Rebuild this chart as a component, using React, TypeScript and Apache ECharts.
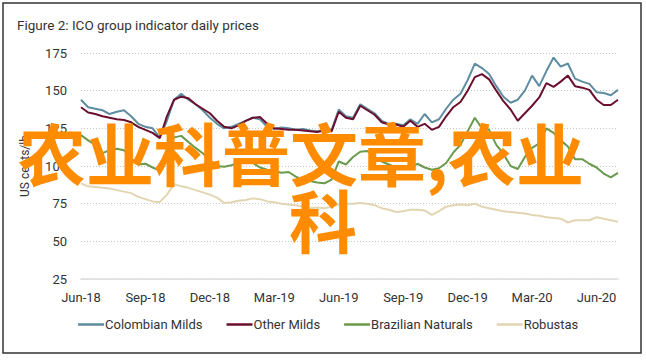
import React, { useEffect, useRef } from "react";
import * as echarts from "echarts";

const xLabels = ["Jun-18", "Sep-18", "Dec-18", "Mar-19", "Jun-19", "Sep-19", "Dec-19", "Mar-20", "Jun-20"];
const seriesNames = ["Colombian Milds", "Other Milds", "Brazilian Naturals", "Robustas"];
const seriesColors = ["#5e8ca0", "#6b0f2f", "#6a9a4b", "#e2d5b2"];
const yTicks = [25, 50, 75, 100, 125, 150, 175];

// sample grid: every third of a month starting Jun-18 (months since Jun-18)
const sampleMonths = Array.from({ length: 76 }, (_, k) => k / 3);

const colombianMilds = [
  144, 139, 138, 137, 134.5, 136, 137, 133, 128, 126,
  125, 119, 130, 144, 148, 144, 141, 137, 132, 128,
  125, 126, 128, 130, 132, 131, 126, 124.5, 125.5, 125,
  124, 124.5, 123.5, 123, 124.5, 124, 137.5, 133, 132, 141,
  138, 135, 130, 128, 128, 127, 131, 128, 134.5, 129,
  131, 138, 144, 148, 157, 168, 165, 161, 153, 146,
  142, 144, 150, 160, 153, 163, 172, 166, 168, 158,
  156, 154.5, 149, 148.5, 147, 150.5,
];
const otherMilds = [
  139, 135.5, 134.5, 133, 132, 131, 130.5, 129, 126, 124,
  122, 118.5, 133, 144, 146, 145, 141, 138, 135, 130,
  126, 125, 127, 130, 132, 132.5, 128, 125, 124.5, 124,
  124, 123.5, 123, 122.5, 123.5, 123, 136, 132, 131, 140,
  137, 134, 129, 127.5, 127.5, 126, 130, 126, 128, 124,
  126, 133, 139, 142.5, 150, 159, 161, 157.5, 150, 143,
  137.5, 130, 135, 140, 145.5, 155, 152.5, 156, 160, 153,
  152, 150.5, 144, 140.5, 140.5, 144,
];
const brazilianNaturals = [
  120.5, 117, 114, 108.5, 110.5, 111.5, 110.5, 105, 101, 101.5,
  99, 97, 108, 119, 120, 116, 112, 108.5, 104, 100,
  99.5, 100.5, 102, 102, 102, 99, 97.5, 96.5, 95.5, 96,
  93, 91, 90, 89, 88.5, 91, 103, 101, 106, 109.5,
  110, 106, 103, 101, 99, 98.5, 98.5, 101.5, 99, 97.5,
  98.5, 102, 109, 114, 123, 132, 125, 124, 114, 108,
  100, 98, 106, 112, 115, 125, 122, 117, 113, 104.5,
  104.5, 101.5, 99, 95, 92.5, 95.5,
];
const robustas = [
  88.5, 86.5, 86, 85.5, 85, 84, 83, 82, 79.5, 78,
  76.5, 76, 81, 88, 86.5, 85.5, 84, 82.5, 81, 79,
  75.5, 76, 77, 77.5, 78.5, 78, 76.5, 76, 75, 74.5,
  74, 73, 72, 72.5, 72, 73, 74.5, 75, 75, 75.5,
  75, 74, 72, 71, 69.5, 70, 71, 71, 70.5, 67.5,
  70, 73, 74, 74.5, 74, 75, 73, 72, 71, 70,
  69.5, 69, 68.5, 67.5, 67, 66, 65.5, 65, 62.5, 64,
  64, 64, 66, 65, 64, 63,
];
const allValues = [colombianMilds, otherMilds, brazilianNaturals, robustas];

const overlayLine1 = "农业科普文章,农业";
const overlayLine2 = "科";

const FONT = "Roboto, 'Noto Sans', sans-serif";

export default function App() {
  const ref = useRef<HTMLDivElement>(null);
  useEffect(() => {
    if (!ref.current) return;
    const chart = echarts.init(ref.current, undefined, { renderer: "svg" });
    chart.setOption({
      animation: false,
      backgroundColor: "#ffffff",
      title: {
        text: "Figure 2: ICO group indicator daily prices",
        left: 12,
        top: 13,
        textStyle: { fontFamily: FONT, fontSize: 13.5, fontWeight: "normal", color: "#333333" },
      },
      grid: { left: 81, right: 28, top: 53, bottom: 81 },
      legend: {
        data: seriesNames,
        left: 73,
        top: 313,
        icon: "rect",
        itemWidth: 26,
        itemHeight: 2.5,
        itemGap: 24,
        textStyle: { fontFamily: FONT, fontSize: 13, color: "#333333", padding: [0, 0, 0, -4] },
      },
      xAxis: {
        type: "value",
        min: 0,
        max: 25,
        interval: 3,
        axisLine: { show: true, lineStyle: { color: "#dcdcdc", width: 1.5 } },
        axisTick: { show: false },
        splitLine: { show: false },
        axisLabel: {
          showMaxLabel: false,
          showMinLabel: true,
          margin: 12,
          fontFamily: FONT,
          fontSize: 13,
          color: "#333333",
          formatter: (v: number) => (v % 3 === 0 ? xLabels[v / 3] ?? "" : ""),
        },
      },
      yAxis: {
        type: "value",
        min: yTicks[0],
        max: yTicks[yTicks.length - 1],
        interval: 25,
        name: "US cents/lb",
        nameLocation: "middle",
        nameGap: 50,
        nameTextStyle: { fontFamily: FONT, fontSize: 12, color: "#333333" },
        axisLine: { show: false },
        axisTick: { show: false },
        axisLabel: {
          showMinLabel: true,
          showMaxLabel: true,
          margin: 14,
          fontFamily: FONT,
          fontSize: 13,
          color: "#333333",
        },
        splitLine: { show: true, lineStyle: { color: "#c8c8c8", type: [1, 2], width: 1 } },
      },
      series: seriesNames.map((name, i) => ({
        name,
        type: "line",
        showSymbol: false,
        symbol: "none",
        color: seriesColors[i],
        lineStyle: { width: 2, color: seriesColors[i] },
        data: sampleMonths.map((m, j) => [m, allValues[i][j]]),
        z: [3, 4, 2, 1][i],
      })),
      graphic: [
        {
          type: "rect",
          shape: { x: 3, y: 3, width: 638, height: 350 },
          style: { fill: "none", stroke: "#333333", lineWidth: 1.5 },
          silent: true,
        },
        {
          type: "text",
          x: 18,
          y: 151,
          z: 100,
          style: {
            text: overlayLine1,
            fill: "#ff8c00",
            fontSize: 68,
            fontWeight: "bold",
            fontFamily: "'Noto Sans CJK SC', sans-serif",
            verticalAlign: "middle",
            align: "left",
          },
        },
        {
          type: "text",
          x: 289,
          y: 218,
          z: 100,
          style: {
            text: overlayLine2,
            fill: "#ff8c00",
            fontSize: 68,
            fontWeight: "bold",
            fontFamily: "'Noto Sans CJK SC', sans-serif",
            verticalAlign: "middle",
            align: "left",
          },
        },
      ],
    });
    return () => chart.dispose();
  }, []);
  return <div ref={ref} style={{ width: 646, height: 360, position: "absolute", left: 0, top: 0 }} />;
}
